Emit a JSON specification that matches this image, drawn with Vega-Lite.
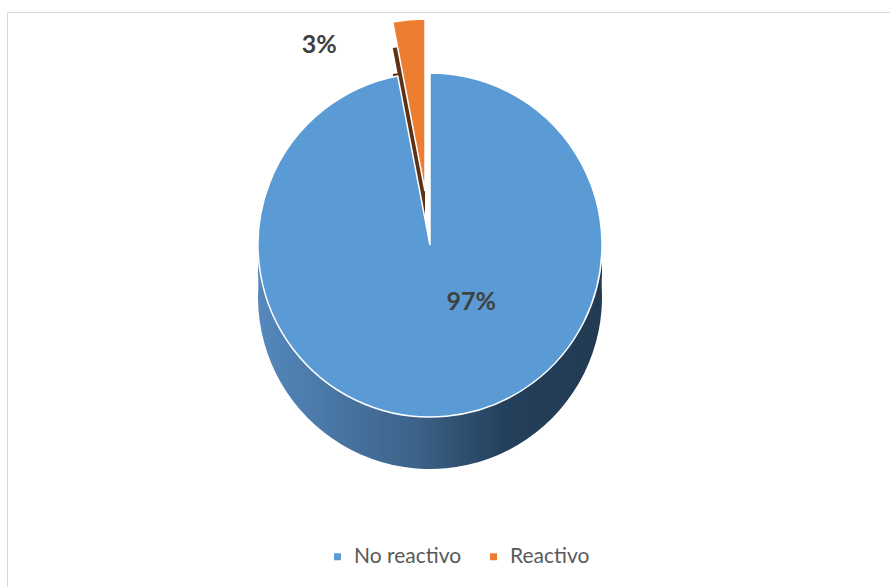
{
  "$schema": "https://vega.github.io/schema/vega-lite/v6.json",
  "width": 886,
  "height": 578,
  "autosize": {"type": "none"},
  "padding": {"left": 7, "top": 12, "right": -3, "bottom": -3},
  "background": "white",
  "view": {"stroke": "#D9D9D9", "strokeWidth": 1},
  "config": {
    "view": {"stroke": "#D9D9D9", "strokeWidth": 1},
    "font": "Lato",
    "legend": {
      "orient": "none",
      "legendX": 320,
      "legendY": 534,
      "direction": "horizontal",
      "title": null,
      "symbolType": "square",
      "symbolSize": 49,
      "symbolStrokeWidth": 0,
      "labelFont": "Lato",
      "labelFontSize": 21,
      "labelColor": "#595959",
      "labelOffset": 6,
      "columnPadding": 21,
      "padding": 0
    }
  },
  "data": {
    "values": [
      {"estado": "No reactivo", "porcentaje": 0.97},
      {"estado": "Reactivo", "porcentaje": 0.03}
    ]
  },
  "transform": [
    {"stack": "porcentaje", "groupby": [], "as": ["inicio", "fin"]}
  ],
  "layer": [
    {
      "transform": [{"filter": "datum.estado === 'No reactivo'"}],
      "mark": {
        "type": "arc", "outerRadius": 172, "x": 423, "y": 285,
        "fill": {"gradient": "linear", "x1": 0, "y1": 0, "x2": 1, "y2": 0,
          "stops": [
            {"offset": 0, "color": "#5588BD"},
            {"offset": 0.45, "color": "#3C6389"},
            {"offset": 0.72, "color": "#243F5A"},
            {"offset": 1, "color": "#223B53"}
          ]}
      },
      "encoding": {
        "theta": {"field": "inicio", "type": "quantitative", "scale": {"domain": [0, 1]}},
        "theta2": {"field": "fin"}
      }
    },
    {
      "transform": [{"filter": "datum.estado === 'No reactivo'"}],
      "mark": {
        "type": "arc", "outerRadius": 172, "x": 423, "y": 259,
        "fill": {"gradient": "linear", "x1": 0, "y1": 0, "x2": 1, "y2": 0,
          "stops": [
            {"offset": 0, "color": "#5588BD"},
            {"offset": 0.45, "color": "#3C6389"},
            {"offset": 0.72, "color": "#243F5A"},
            {"offset": 1, "color": "#223B53"}
          ]}
      },
      "encoding": {
        "theta": {"field": "inicio", "type": "quantitative"},
        "theta2": {"field": "fin"}
      }
    },
    {
      "transform": [{"filter": "datum.estado === 'Reactivo'"}],
      "mark": {"type": "arc", "outerRadius": 172, "x": 418, "y": 231, "fill": "#5E3214"},
      "encoding": {
        "theta": {"field": "inicio", "type": "quantitative"},
        "theta2": {"field": "fin"}
      }
    },
    {
      "transform": [{"filter": "datum.estado === 'Reactivo'"}],
      "mark": {"type": "arc", "outerRadius": 172, "x": 418, "y": 205, "fill": "#5E3214"},
      "encoding": {
        "theta": {"field": "inicio", "type": "quantitative"},
        "theta2": {"field": "fin"}
      }
    },
    {
      "transform": [{"filter": "datum.estado === 'No reactivo'"}],
      "mark": {"type": "arc", "outerRadius": 172, "x": 423, "y": 233, "stroke": "white", "strokeWidth": 1.5},
      "encoding": {
        "theta": {"field": "inicio", "type": "quantitative"},
        "theta2": {"field": "fin"},
        "color": {
          "field": "estado", "type": "nominal",
          "scale": {"domain": ["No reactivo", "Reactivo"], "range": ["#5B9BD5", "#ED7D31"]}
        }
      }
    },
    {
      "transform": [{"filter": "datum.estado === 'Reactivo'"}],
      "mark": {"type": "arc", "outerRadius": 172, "x": 418, "y": 179, "stroke": "white", "strokeWidth": 1.5},
      "encoding": {
        "theta": {"field": "inicio", "type": "quantitative"},
        "theta2": {"field": "fin"},
        "color": {"field": "estado", "type": "nominal"}
      }
    },
    {
      "mark": {
        "type": "text", "x": 423, "y": 233, "radius": 57, "dx": 36,
        "font": "Lato", "fontWeight": "bold", "fontSize": 25, "fill": "#404040",
        "align": "center", "baseline": "middle"
      },
      "encoding": {
        "theta": {"field": "porcentaje", "type": "quantitative", "stack": true},
        "order": {"field": "inicio", "type": "quantitative"},
        "text": {"field": "porcentaje", "type": "quantitative", "format": ".0%"},
        "opacity": {"condition": {"test": "datum.estado === 'No reactivo'", "value": 1}, "value": 0}
      }
    },
    {
      "mark": {
        "type": "text", "x": 418, "y": 179, "radius": 147, "dx": -92,
        "font": "Lato", "fontWeight": "bold", "fontSize": 25, "fill": "#404040",
        "align": "center", "baseline": "middle"
      },
      "encoding": {
        "theta": {"field": "porcentaje", "type": "quantitative", "stack": true},
        "order": {"field": "inicio", "type": "quantitative"},
        "text": {"field": "porcentaje", "type": "quantitative", "format": ".0%"},
        "opacity": {"condition": {"test": "datum.estado === 'Reactivo'", "value": 1}, "value": 0}
      }
    }
  ]
}
